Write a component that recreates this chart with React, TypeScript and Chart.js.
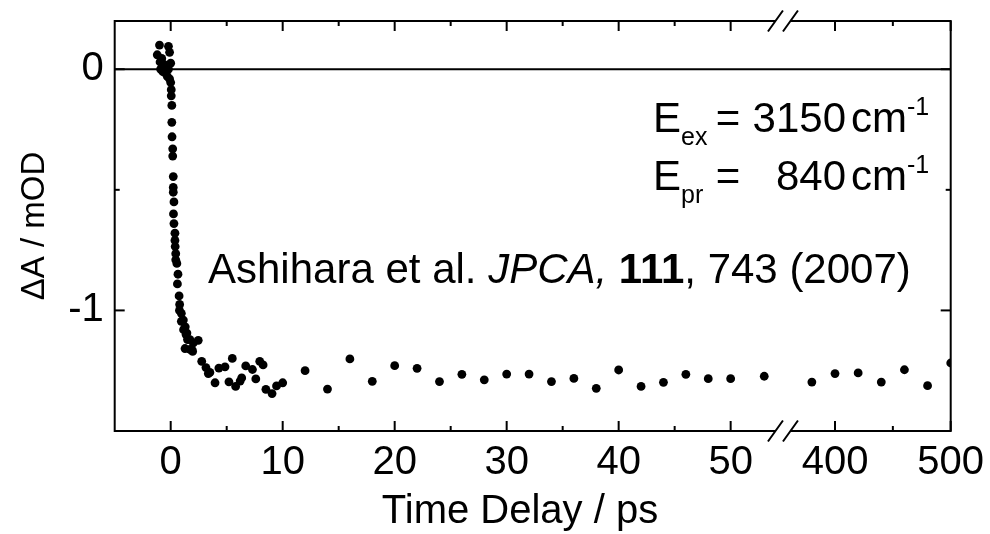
import React, { useEffect, useRef } from 'react';
import { Chart, registerables } from 'chart.js';

Chart.register(...registerables);

// ---- data ----
const timeDelay = [
  -1.2, -1.0, -0.95, -0.9, -0.8, -0.7, -0.6, -0.5, -0.45, -0.3, -0.2, -0.2, -0.1, -0.1, 0.0, 0.0,
  0.05, 0.05, 0.1, 0.1, 0.12, 0.18, 0.18, 0.23, 0.23, 0.23, 0.29, 0.25, 0.29, 0.38, 0.38, 0.4,
  0.45, 0.45, 0.55, 0.65, 0.6, 0.75, 0.8, 0.78, 0.95, 0.95, 1.13, 1.15, 1.3, 1.37, 1.45, 1.5,
  1.72, 1.28, 1.72, 1.9, 1.96, 2.02, 2.46, 2.77, 3.15, 3.36, 3.5, 3.96, 4.3, 4.85, 5.2, 5.5,
  5.8, 6.2, 6.34, 6.7, 7.3, 7.6, 7.95, 8.25, 8.5, 9.05, 9.45, 10, 12, 14, 16, 18, 20, 22, 24,
  26, 28, 30, 32, 34, 36, 38, 40, 42, 44, 46, 48, 50, 53, 380, 400, 420, 440, 460, 480, 500,
];
const deltaA = [
  0.06, 0.1, 0.03, 0.0, 0.045, -0.01, 0.02, -0.015, 0.01, -0.03, 0.095, 0.0, 0.07, -0.04, 0.025, -0.055,
  -0.085, -0.11, -0.15, -0.22, -0.28, -0.33, -0.36, -0.445, -0.49, -0.51, -0.55, -0.6, -0.64, -0.68, -0.71, -0.735,
  -0.765, -0.79, -0.805, -0.85, -0.89, -0.94, -0.975, -1.0, -1.012, -1.045, -1.04, -1.08, -1.068, -1.1, -1.094, -1.121,
  -1.121, -1.158, -1.162, -1.163, -1.17, -1.135, -1.124, -1.211, -1.237, -1.262, -1.257, -1.3, -1.239, -1.234, -1.296, -1.199,
  -1.315, -1.293, -1.28, -1.23, -1.245, -1.284, -1.211, -1.226, -1.327, -1.345, -1.313, -1.3, -1.25, -1.326, -1.201, -1.294, -1.229, -1.24, -1.295,
  -1.265, -1.288, -1.264, -1.264, -1.295, -1.282, -1.323, -1.247, -1.315, -1.298, -1.265, -1.283, -1.283, -1.273, -1.297, -1.262, -1.259, -1.297, -1.246, -1.312, -1.218,
];

const xTickValues = [0, 5, 10, 15, 20, 25, 30, 35, 40, 45, 50, 400, 450, 500];
const xTickLabels = ['0', '', '10', '', '20', '', '30', '', '40', '', '50', '400', '', '500'];
const yTickValues = [-1.5, -1, -0.5, 0];
const yTickLabels = ['', '-1', '', '0'];

const X_MIN = -5;
const X_MAX = 500;
const Y_MIN = -1.5;
const Y_MAX = 0.2;

// broken axis: left part -5..BREAK_LOW, right part BREAK_HIGH..500 compressed
const BREAK_LOW = 54.67;
const BREAK_HIGH = 355;
const HIGH_SCALE = 0.1033;

const xTitle = 'Time Delay / ps';
const yTitle = '\u0394A / mOD';
const refText = ['Ashihara et al. ', 'JPCA,', ' ', '111', ', 743 (2007)'];

const FONT = '"Liberation Sans", Arial, Helvetica, sans-serif';

function toU(x: number): number {
  return x <= BREAK_LOW ? x : BREAK_LOW + (x - BREAK_HIGH) * HIGH_SCALE;
}

type Run = { text: string; font: string; dy?: number };

function drawRuns(ctx: CanvasRenderingContext2D, x: number, y: number, runs: Run[]) {
  let cx = x;
  for (const r of runs) {
    ctx.font = r.font;
    ctx.fillText(r.text, cx, y + (r.dy || 0));
    cx += ctx.measureText(r.text).width;
  }
}

const framePlugin = {
  id: 'framePlugin',
  beforeDatasetsDraw(chart: any) {
    const { ctx, chartArea } = chart;
    const { left, right, top, bottom } = chartArea;
    const xs = chart.scales.x;
    const ys = chart.scales.y;
    ctx.save();
    ctx.strokeStyle = '#000';
    ctx.lineWidth = 2;
    ctx.lineCap = 'butt';
    const line = (x1: number, y1: number, x2: number, y2: number) => {
      ctx.beginPath();
      ctx.moveTo(x1, y1);
      ctx.lineTo(x2, y2);
      ctx.stroke();
    };
    const y0 = ys.getPixelForValue(0);
    line(left, y0, right, y0);
    ctx.strokeRect(left, top, right - left, bottom - top);
    xTickValues.forEach((v, i) => {
      const px = xs.getPixelForValue(toU(v));
      const len = xTickLabels[i] ? 10 : 5;
      line(px, bottom, px, bottom - len);
      line(px, top, px, top + len);
    });
    yTickValues.forEach((v, i) => {
      const py = ys.getPixelForValue(v);
      const len = yTickLabels[i] ? 10 : 5;
      line(left, py, left + len, py);
      line(right, py, right - len, py);
    });
    // x axis title
    ctx.fillStyle = '#000';
    ctx.font = `40px ${FONT}`;
    ctx.textAlign = 'center';
    ctx.textBaseline = 'alphabetic';
    ctx.fillText(xTitle, 520, 523);
    ctx.restore();
  },
  afterDatasetsDraw(chart: any) {
    const { ctx, chartArea } = chart;
    const { top, bottom } = chartArea;
    const xs = chart.scales.x;
    const bx = xs.getPixelForValue(BREAK_LOW);
    ctx.save();
    for (const ey of [top, bottom]) {
      ctx.fillStyle = '#fff';
      ctx.fillRect(bx - 7.5, ey - 2, 15, 4);
      ctx.strokeStyle = '#000';
      ctx.lineWidth = 2;
      ctx.beginPath();
      ctx.moveTo(bx - 15, ey + 10.5);
      ctx.lineTo(bx, ey - 10.5);
      ctx.moveTo(bx, ey + 10.5);
      ctx.lineTo(bx + 15, ey - 10.5);
      ctx.stroke();
    }
    // annotations
    ctx.fillStyle = '#000';
    ctx.textBaseline = 'alphabetic';
    const big = `42px ${FONT}`;
    const small = `25px ${FONT}`;
    const lines = [
      { base: 132, sub: 'ex', num: '3150' },
      { base: 190, sub: 'pr', num: '840' },
    ];
    for (const l of lines) {
      ctx.textAlign = 'left';
      drawRuns(ctx, 653, l.base, [
        { text: 'E', font: big },
        { text: l.sub, font: small, dy: 13 },
      ]);
      ctx.font = big;
      ctx.textAlign = 'center';
      ctx.fillText('=', 728, l.base);
      ctx.textAlign = 'right';
      ctx.fillText(l.num, 846, l.base);
      ctx.textAlign = 'left';
      drawRuns(ctx, 851, l.base, [
        { text: 'cm', font: big },
        { text: '-1', font: small, dy: -17 },
      ]);
    }
    ctx.textAlign = 'left';
    drawRuns(ctx, 208, 283, [
      { text: refText[0], font: `42px ${FONT}` },
      { text: refText[1], font: `italic 42px ${FONT}` },
      { text: refText[2], font: `42px ${FONT}` },
      { text: refText[3], font: `bold 42px ${FONT}` },
      { text: refText[4], font: `42px ${FONT}` },
    ]);
    ctx.restore();
  },
};

export default function App() {
  const canvasRef = useRef<HTMLCanvasElement | null>(null);

  useEffect(() => {
    document.body.style.margin = '0';
    const canvas = canvasRef.current;
    if (!canvas) return;
    const chart = new Chart(canvas, {
      type: 'scatter',
      data: {
        datasets: [
          {
            data: timeDelay.map((t, i) => ({ x: toU(t), y: deltaA[i] })),
            backgroundColor: '#000',
            borderWidth: 0,
            pointRadius: 4.4,
            pointHoverRadius: 4.4,
          },
        ],
      },
      options: {
        animation: false,
        responsive: false,
        devicePixelRatio: 1,
        layout: { padding: { top: 21, right: 39.3, left: 0, bottom: 0 } },
        plugins: { legend: { display: false }, tooltip: { enabled: false } },
        events: [],
        scales: {
          x: {
            type: 'linear',
            min: X_MIN,
            max: toU(X_MAX),
            grid: { display: false },
            border: { display: false },
            afterBuildTicks: (scale: any) => {
              scale.ticks = xTickValues.map((v) => ({ value: toU(v) }));
            },
            afterFit: (scale: any) => {
              scale.height = 103;
              scale.paddingLeft = 0;
              scale.paddingRight = 0;
            },
            ticks: {
              autoSkip: false,
              maxRotation: 0,
              minRotation: 0,
              padding: 0,
              color: '#000',
              font: { family: FONT, size: 40 },
              callback: (_v: any, i: number) => xTickLabels[i],
            },
            title: { display: false, text: xTitle },
          },
          y: {
            type: 'linear',
            min: Y_MIN,
            max: Y_MAX,
            grid: { display: false },
            border: { display: false },
            afterBuildTicks: (scale: any) => {
              scale.ticks = yTickValues.map((v) => ({ value: v }));
            },
            afterFit: (scale: any) => {
              scale.width = 114.7;
              scale.paddingTop = 0;
              scale.paddingBottom = 0;
            },
            ticks: {
              autoSkip: false,
              padding: 3,
              color: '#000',
              font: { family: FONT, size: 40 },
              callback: (_v: any, i: number) => yTickLabels[i],
            },
            title: {
              display: true,
              text: yTitle,
              color: '#000',
              font: { family: FONT, size: 33 },
              padding: { top: 15, bottom: 0 },
            },
          },
        },
      },
      plugins: [framePlugin],
    });
    return () => chart.destroy();
  }, []);

  return (
    <div style={{ width: 990, height: 534, background: '#fff' }}>
      <canvas ref={canvasRef} width={990} height={534} />
    </div>
  );
}
